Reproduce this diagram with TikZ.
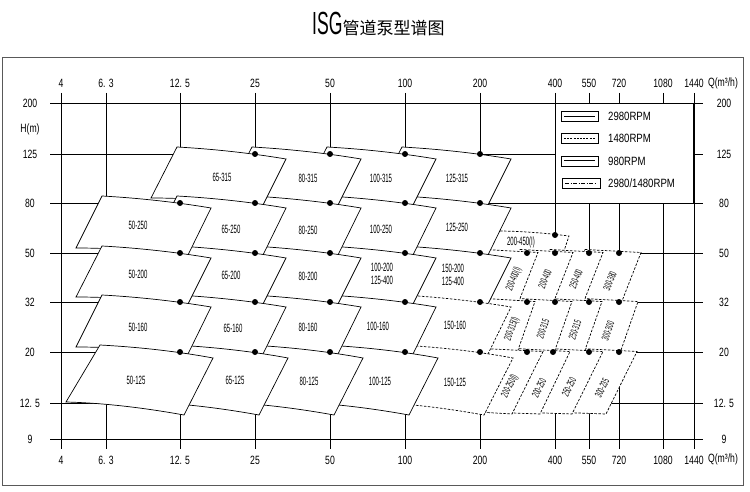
\documentclass[tikz,border=0pt]{standalone}
\usepackage{fontspec}
\setmainfont{Liberation Sans}
\newfontfamily\axisfont[FakeStretch=0.72]{Liberation Sans}
\newfontfamily\legendfont[FakeStretch=0.8]{Liberation Sans}
\newfontfamily\boxfont[FakeStretch=0.5]{Liberation Sans}
\newfontfamily\isgfont[FakeStretch=0.55]{Liberation Sans}
\newfontfamily\cjk{Noto Sans CJK SC}
\usetikzlibrary{positioning}

% box of one pump: style, x of right dot, y of top dot, y of bottom dot
\newcommand{\pumpbox}[4]{%
  \draw[#1] (#2-78,#3-7) .. controls (#2-42,#3-5) and (#2-5,#3-1) .. (#2+31,#3+5)
    -- (#2+8,#4+2) .. controls (#2-29,#4-2) and (#2-67,#4-5) .. (#2-104,#4-5) -- cycle}
% lowest row, open at the bottom
\newcommand{\lowbox}[3]{%
  \draw[#1] (#2-80,#3-7) .. controls (#2-43,#3-5) and (#2-5,#3-1) .. (#2+33,#3+6)
    -- (#2+4,415) .. controls (#2-35,408) and (#2-75,403) .. (#2-114,402) -- cycle}
% slim boxes on the right: style, y top, y bottom, TL x, TR x, BR x, BL x
\newcommand{\slimbox}[7]{%
  \draw[#1] (#4,#2-3.5) -- (#5,#2-0.5) -- (#6,#3) -- (#7,#3-2) -- cycle}

\begin{document}
\begin{tikzpicture}[x=1pt,y=-1pt,
    gridline/.style={line width=0.7pt},
    solidbox/.style={draw,fill=white,line width=0.7pt},
    dashbox/.style={solidbox,dash pattern=on 2.5pt off 1.5pt},
    pumpdot/.style={circle,fill,inner sep=0pt,minimum size=6pt},
    axislabel/.style={font={\axisfont\fontsize{12}{13}\selectfont},inner sep=1pt},
    boxlabel/.style={font={\boxfont\fontsize{12}{13.5}\selectfont},align=center,inner sep=0pt},
    slimlabel/.style={font={\boxfont\fontsize{10.5}{12}\selectfont},inner sep=0pt},
    legendlabel/.style={font={\legendfont\fontsize{12}{14}\selectfont},anchor=west,inner sep=0pt}]
\useasboundingbox (0,0) rectangle (750,492);
\draw[line width=1pt,black!65] (2,58) rectangle (743,485);
\node[anchor=base west,inner sep=0pt] (title) at (312,35)
  {{\isgfont\fontsize{32}{34}\selectfont ISG}{\cjk\fontsize{17}{18}\selectfont 管道泵型谱图}};

% grid
\foreach \x in {61,106,180,255,330,405,480,555,589,619,663,694}
  \draw[gridline] (\x,93) -- (\x,449);
\foreach \y in {103,154,203,253,302,352,403,439}
  \draw[gridline] (50,\y) -- (703,\y);

% axes
\foreach \x/\q [count=\i] in {61/4,106/{6. 3},180/{12. 5},255/25,330/50,405/100,
    480/200,555/400,589/550,619/720,663/1080,694/1440} {
  \node[axislabel] (qt\i) at (\x,83) {\q};
  \node[axislabel] (qb\i) at (\x,460) {\q};
}
\foreach \y/\h [count=\i] in {103/200,154/125,203/80,253/50,302/32,352/20,403/{12. 5},439/9} {
  \node[axislabel] (hl\i) at (30,\y) {\h};
  \node[axislabel] (hr\i) at (724,\y) {\h};
}
\node[axislabel] (hunit) at (30,129) {H(m)};
\node[axislabel] (qunit) at (723,83) {Q(m³/h)};
\node[axislabel] (qunitb) at (723,459) {Q(m³/h)};

% legend
\draw[gridline,fill=white] (555,103) rectangle (693,203);
\draw[line width=0.6pt] (561,111) rectangle (598,121);
\draw[line width=0.6pt] (564,116) -- (595,116);
\draw[line width=0.6pt] (561,133) rectangle (598,143);
\draw[line width=0.6pt,dash pattern=on 2pt off 1.2pt] (564,138) -- (595,138);
\draw[line width=0.6pt] (561,156) rectangle (598,166);
\draw[line width=1pt] (564,161) -- (595,161);
\draw[line width=0.6pt] (562,178) rectangle (600,188);
\draw[line width=0.6pt,dash pattern=on 4pt off 1.5pt on 1pt off 1.5pt] (565,183) -- (597,183);
\node[legendlabel] (l1) at (608,116) {2980RPM};
\node[legendlabel] (l2) at (608,138) {1480RPM};
\node[legendlabel] (l3) at (608,161) {980RPM};
\node[legendlabel] (l4) at (608,183) {2980/1480RPM};

% 1480 rpm group on the right
\draw[dashbox] (496,231) .. controls (520,231) and (545,233) .. (569,236)
  -- (563,254) -- (487,254) -- cycle;
\slimbox{dashbox}{253}{301}{585}{641}{622}{566};
\slimbox{dashbox}{302}{353}{583}{638}{620}{565};
\slimbox{dashbox}{352}{414}{580}{637}{606}{550};
\slimbox{dashbox}{253}{301}{550}{603}{584}{530};
\slimbox{dashbox}{302}{353}{548}{602}{584}{530};
\slimbox{dashbox}{352}{414}{548}{603}{572}{517};
\slimbox{dashbox}{253}{301}{520}{573}{554}{500};
\slimbox{dashbox}{302}{353}{518}{572}{554}{500};
\slimbox{dashbox}{352}{414}{515}{570}{540}{485};
\slimbox{dashbox}{253}{301}{485}{538}{519}{466};
\slimbox{dashbox}{302}{353}{485}{535}{517}{470};
\slimbox{dashbox}{352}{414}{483}{543}{512}{478};

% column Q=200
\foreach \yt/\yb in {154/203,203/253,253/302} {\pumpbox{solidbox}{480}{\yt}{\yb};}
\pumpbox{dashbox}{480}{302}{352};
\lowbox{dashbox}{480}{352};
% columns Q=100, 50, 25
\foreach \xr in {405,330,255} {
  \foreach \yt/\yb in {154/203,203/253,253/302,302/352} {\pumpbox{solidbox}{\xr}{\yt}{\yb};}
  \lowbox{solidbox}{\xr}{352};
}
% column Q=12.5
\foreach \yt/\yb in {203/253,253/302,302/352} {\pumpbox{solidbox}{180}{\yt}{\yb};}
\lowbox{solidbox}{180}{352};

% model labels
\foreach \lx/\ly/\txt [count=\i] in {138/225/50-250,138/274/50-200,138/327/50-160,136/380/50-125,
    222/177/65-315,231/229/65-250,231/275/65-200,233/328/65-160,235/380/65-125,
    308/178/80-315,308/230/80-250,308/276/80-200,308/327/80-160,309/381/80-125,
    381/178/100-315,381/229/100-250,382/274/{100-200\\125-400},378/326/100-160,380/381/100-125,
    457/178/125-315,457/227/125-250,453/275/{150-200\\125-400},455/325/150-160,455/382/150-125,
    521/242/200-450(I)}
  \node[boxlabel] (m\i) at (\lx,\ly) {\txt};
\foreach \lx/\ly/\ang/\txt [count=\i] in {514/279/68/200-400(I),545/279/68/200-400,
    576/279/68/250-400,610/281/68/300-380,
    512/329/70/200-315(I),543/329/70/200-315,575/330/70/250-315,608/331/70/300-300,
    510/386/63/200-250(I),539/388/63/200-250,569/387/63/250-250,602/388/63/300-235}
  \node[slimlabel,rotate=\ang] (r\i) at (\lx,\ly) {\txt};

% duty points
\foreach \x in {255,330,405,480}
  \foreach \y in {154,203,253,302,352}
    \node[pumpdot] (d\x-\y) at (\x,\y) {};
\foreach \x/\y in {180/203,180/253,180/302,180/352,555/235,
    527/253,555/253,589/253,619/253,527/302,555/302,589/302,619/302,
    527/352,553/352,589/352,619/352}
  \node[pumpdot] (d\x-\y) at (\x,\y) {};
\end{tikzpicture}
\end{document}
